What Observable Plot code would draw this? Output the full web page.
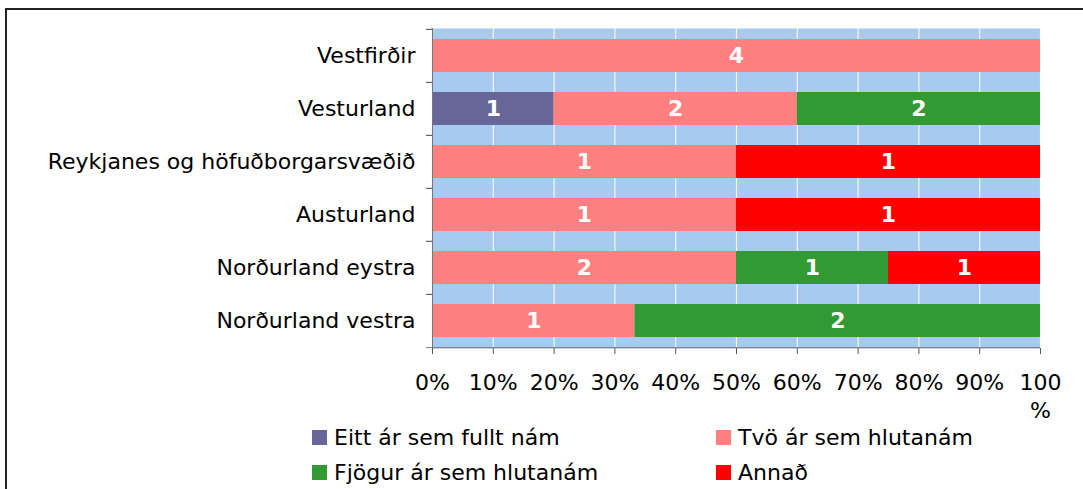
<!DOCTYPE html>
<html><head><meta charset="utf-8">
<script src="https://cdn.jsdelivr.net/npm/d3@7"></script>
<script src="https://cdn.jsdelivr.net/npm/@observablehq/plot@0.6"></script>
<style>
html,body{margin:0;padding:0;background:#fff;}
#wrap{position:relative;width:1083px;height:489px;overflow:hidden;font-family:"DejaVu Sans",Verdana,sans-serif;}
#border{position:absolute;left:5px;top:8px;width:1200px;height:600px;border-top:2px solid #222;border-left:2px solid #222;}
#chart{position:absolute;left:0;top:0;}
#legend{position:absolute;left:312px;top:420px;display:grid;grid-template-columns:404px auto;grid-auto-rows:35px;font-size:22px;color:#000;}
.item{display:flex;align-items:center;gap:7px;white-space:nowrap;}
.sw{width:15px;height:15px;display:inline-block;flex:none;}
</style></head><body>
<div id="wrap"><div id="border"></div><div id="chart"></div><div id="legend"></div></div>
<script>
const regions = ["Vestfirðir", "Vesturland", "Reykjanes og höfuðborgarsvæðið", "Austurland", "Norðurland eystra", "Norðurland vestra"];
const series = ["Eitt ár sem fullt nám", "Tvö ár sem hlutanám", "Fjögur ár sem hlutanám", "Annað"];
const colors = ["#666699", "#ff8080", "#339933", "#ff0000"];
const eitt   = [0, 1, 0, 0, 0, 0];
const tvo    = [4, 2, 1, 1, 2, 1];
const fjogur = [0, 2, 0, 0, 1, 2];
const annad  = [0, 0, 1, 1, 1, 0];
const tickValues = [0, 0.1, 0.2, 0.3, 0.4, 0.5, 0.6, 0.7, 0.8, 0.9, 1];
const tickLabels = ["0%", "10%", "20%", "30%", "40%", "50%", "60%", "70%", "80%", "90%", "100\n%"];

const seriesValues = [eitt, tvo, fjogur, annad];
const data = [];
series.forEach((s, si) => {
  regions.forEach((r, ri) => {
    const v = seriesValues[si][ri];
    if (v > 0) data.push({region: r, series: s, value: v});
  });
});
const labelOf = new Map(tickValues.map((v, i) => [v, tickLabels[i]]));

const W = 1083, H = 410, mT = 28, mB = 62, mL = 432, mR = 43;
const step = (H - mT - mB) / regions.length;
const last = regions[regions.length - 1];

const chart = Plot.plot({
  width: W, height: H,
  marginTop: mT, marginBottom: mB, marginLeft: mL, marginRight: mR,
  style: {fontFamily: "'DejaVu Sans', Verdana, sans-serif", fontSize: "22px", background: "transparent", overflow: "visible", color: "#000"},
  x: {domain: [0, 1], label: null},
  y: {domain: regions, paddingInner: 0.38, paddingOuter: 0.19, label: null},
  color: {domain: series, range: colors},
  marks: [
    Plot.frame({fill: "#a6caf0", stroke: null}),
    Plot.ruleX(tickValues.slice(1), {stroke: "#ffffff", strokeWidth: 1.2, strokeOpacity: 0.85}),
    Plot.barX(data, Plot.stackX({offset: "normalize", x: "value", y: "region", fill: "series"})),
    Plot.text(data, Plot.stackX({offset: "normalize", x: "value", y: "region", z: "series", text: d => String(d.value), fill: "white", fontWeight: "bold", fontSize: 22})),
    Plot.ruleX([0], {stroke: "#777"}),
    Plot.ruleY(regions, {y: d => d, x1: 0, x2: 0, insetLeft: -6, dy: -step / 2, stroke: "#444"}),
    Plot.ruleY([last], {y: d => d, x1: 0, x2: 1, insetLeft: -6, dy: step / 2, stroke: "#777"}),
    Plot.axisX({ticks: tickValues, tickFormat: d => labelOf.get(d), tickSize: 6, tickPadding: 15, fontSize: 22, lineHeight: 1.3, stroke: "#555", fill: "#000", label: null}),
    Plot.axisY({tickSize: 0, tickPadding: 17, fontSize: 22, fill: "#000", label: null})
  ]
});
document.getElementById("chart").appendChild(chart);

const legend = document.getElementById("legend");
const legendOrder = [0, 1, 2, 3];
legendOrder.forEach(i => {
  const item = document.createElement("div");
  item.className = "item";
  const sw = document.createElement("span");
  sw.className = "sw";
  sw.style.background = colors[i];
  const t = document.createElement("span");
  t.textContent = series[i];
  item.appendChild(sw);
  item.appendChild(t);
  legend.appendChild(item);
});
</script>
</body></html>
